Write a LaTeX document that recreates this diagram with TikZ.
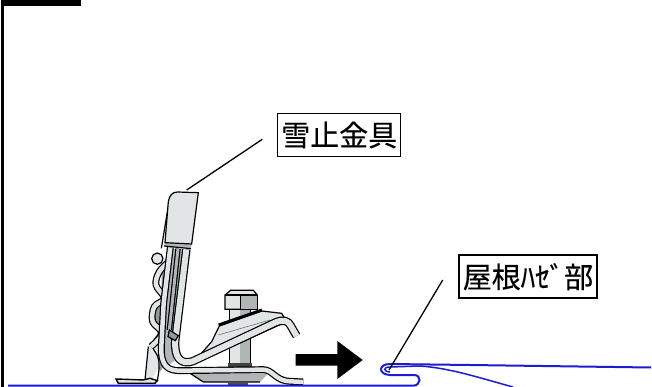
\documentclass[tikz,border=0pt]{standalone}
\usepackage{fontspec}
\newfontfamily\cjk[FakeBold=0.35]{Noto Sans CJK JP}
\definecolor{metallight}{HTML}{E2E5E5}
\definecolor{metalmid}{HTML}{B0B6B6}
\definecolor{metaldark}{HTML}{8C9C98}
\definecolor{roofblue}{HTML}{1C1CD0}
\tikzset{
	labelbox/.style={draw, line width=1.5pt, fill=white, inner sep=0pt, minimum height=43pt, font=\cjk\fontsize{29}{29}\selectfont},
	leader/.style={line width=1.3pt},
	roofline/.style={draw=roofblue, line width=2pt},
	part/.style={draw, line width=1.2pt, fill=metallight},
	edge/.style={line width=1.2pt},
	strip/.style={line width=1.2pt, double=metallight, double distance=4pt, line join=round},
}
\begin{document}
\begin{tikzpicture}[x=1pt, y=-1pt]
	\useasboundingbox (0,0) rectangle (652,387);
	\fill (1,0) rectangle (81,6.5);
	\fill (1,0) rectangle (4,387);

	\begin{scope}[shift={(100,170)}, x=.3333pt, y=-.3333pt]
		\draw[part] (172,266) circle (17);
		\fill[metaldark] (185,285) -- (220,235) -- (205,570) -- (180,605) -- (160,560) -- (172,490) -- (160,410) -- (185,385) -- cycle;
		\fill[metallight] (145,530) -- (178,490) -- (185,575) -- (155,630) -- (135,630) -- cycle;
		\draw[edge] (135,630) -- (145,530);
		\draw[edge] (178,490) .. controls (160,510) and (150,525) .. (165,545) .. controls (180,565) and (180,590) .. (172,632);
		\draw[part, line width=1.4pt] (48,627) -- (130,630) -- (150,625) -- (172,632) -- (165,640) -- (55,640) -- cycle;
		\draw[strip, double distance=4.5pt] plot[smooth, tension=.6] coordinates {(153,530) (186,490) (158,455) (163,410) (193,385) (168,345) (178,305) (207,275)};

		\fill[metalmid] (270,610) -- (310,636) -- (480,636) -- (505,610) -- cycle;
		\draw[edge] (270,610) -- (310,636) -- (480,636);
		\fill[black!70] (385,636) rectangle (445,644);
		\fill[metalmid] (388,410) rectangle (452,590);
		\fill[metallight] (388,410) rectangle (420,590);
		\draw[edge] (388,410) -- (388,585) (452,410) -- (452,585);
		\fill[black!75] (384,578) rectangle (456,594);
		\draw[part] (375,375) -- (392,361) -- (460,361) -- (472,375) -- (472,418) -- (375,418) -- cycle;
		\fill[metalmid] (422,375) -- (471,375) -- (471,417) -- (422,417) -- cycle;
		\draw[edge] (375,375) -- (472,375) (422,375) -- (422,418);

		\draw[part] (358,468) -- (485,423) -- (545,430) -- (560,455) -- (350,550) -- (300,555) -- (335,515) -- cycle;
		\draw[black!55, line width=.6pt] (355,495) -- (510,450);
		\draw[line width=3pt] (356,465) -- (486,420);

		\fill[metalmid] (205,236) -- (272,238) -- (235,510) -- (240,560) -- (200,590) -- (178,540) -- cycle;
		\draw[strip, double distance=4.5pt] (211,232) -- (191,400) -- (184,530) .. controls (182,590) and (205,602) .. (240,602) -- (490,599) .. controls (520,600) and (525,632) .. (570,634) -- (610,636);
		\draw[strip, double=metalmid, double distance=3pt] (234,236) -- (208,480);
		\draw[strip, double distance=6pt] (259,238) -- (226,510) .. controls (222,560) and (240,586) .. (278,574) -- (525,458) .. controls (550,447) and (565,452) .. (572,467) -- (590,498);
		\draw[edge, fill=metaldark] (208,480) -- (235,497) -- (226,512) -- (204,500) -- cycle;

		\fill[metalmid] (195,218) -- (275,222) -- (273,236) -- (192,228) -- cycle;
		\draw[edge] (192,228) -- (273,236);
		\draw[edge] (205,108) -- (184,235);
		\draw[part] (232,66) -- (295,68) -- (275,222) -- (195,218) -- (205,95) .. controls (208,78) and (216,66) .. (232,66) -- cycle;
	\end{scope}

	\draw[roofline] (8,385.7) -- (413,385.7) .. controls (421,385.7) and (422,375) .. (414,375) -- (390,375) .. controls (378,374.5) and (378,364) .. (390,364) -- (470,365) -- (651,367.5);
	\draw[roofline, line width=1.5pt] (390,372) .. controls (383,371.5) and (383,367) .. (390,367) -- (420,366) .. controls (450,368) and (480,378) .. (513,387);
	\fill (295.7,354) -- (337.3,354) -- (337.3,341) -- (362.7,360) -- (337.3,379) -- (337.3,365.7) -- (295.7,365.7) -- cycle;

	\node[labelbox, minimum width=123pt] (snowbox) at (339.2,135) {\raisebox{-2pt}{雪止金具}};
	\node[labelbox, minimum width=138pt] (seambox) at (528,276.7) {\raisebox{-1pt}{屋根ﾊｾﾞ部}};
	\coordinate (snowfrom) at (262.3,139.3);
	\coordinate (snowto) at (186.7,190);
	\coordinate (seamfrom) at (442.7,280);
	\coordinate (seamto) at (389,370);
	\draw[leader] (snowfrom) -- (snowto);
	\draw[leader] (seamfrom) -- (seamto);
\end{tikzpicture}
\end{document}
